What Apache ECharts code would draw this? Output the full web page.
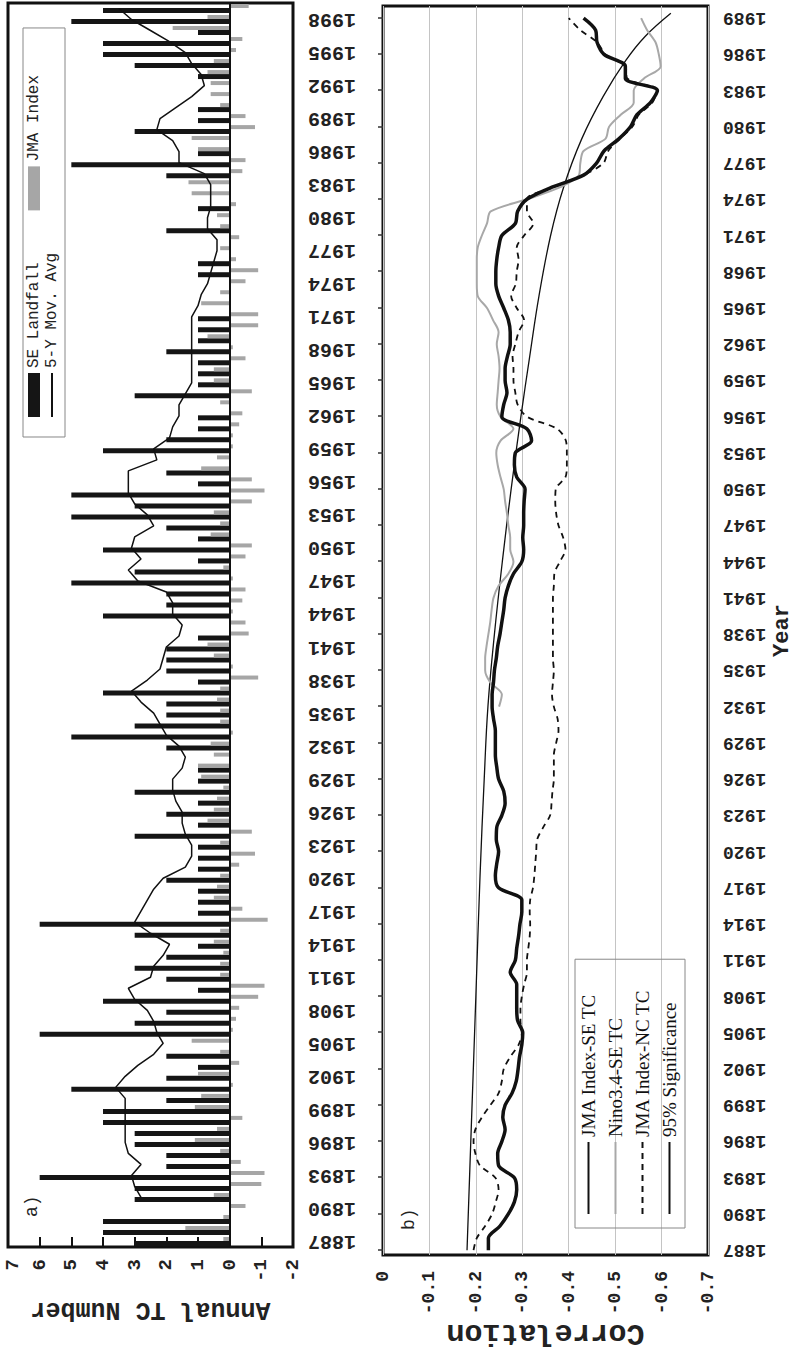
<!DOCTYPE html>
<html><head><meta charset="utf-8">
<script src="https://cdn.jsdelivr.net/npm/echarts@6/dist/echarts.min.js"></script>
<style>
html,body{margin:0;padding:0;background:#fff;overflow:hidden;width:794px;height:1351px;}
#chart{position:absolute;left:0;top:0;width:1351px;height:794px;transform-origin:0 0;transform:translate(0,1351px) rotate(-90deg);background:#fff;}
</style></head><body><div id="chart"></div>
<script>
// ---- Panel a: annual TC numbers ----
const tcYears = [
1887,1888,1889,1890,1891,1892,1893,1894,1895,1896,
1897,1898,1899,1900,1901,1902,1903,1904,1905,1906,
1907,1908,1909,1910,1911,1912,1913,1914,1915,1916,
1917,1918,1919,1920,1921,1922,1923,1924,1925,1926,
1927,1928,1929,1930,1931,1932,1933,1934,1935,1936,
1937,1938,1939,1940,1941,1942,1943,1944,1945,1946,
1947,1948,1949,1950,1951,1952,1953,1954,1955,1956,
1957,1958,1959,1960,1961,1962,1963,1964,1965,1966,
1967,1968,1969,1970,1971,1972,1973,1974,1975,1976,
1977,1978,1979,1980,1981,1982,1983,1984,1985,1986,
1987,1988,1989,1990,1991,1992,1993,1994,1995,1996,
1997,1998,1999];
const seLandfall = [
3,4,4,0,3,3,6,2,2,3,
3,4,4,2,5,2,1,2,0,6,
3,2,4,1,2,3,2,1,3,6,
1,1,1,2,1,1,1,3,1,2,
1,3,1,1,0,2,5,3,2,2,
4,1,2,2,2,1,0,4,2,2,
5,3,1,4,1,2,5,3,5,1,
2,0,4,2,1,1,0,3,1,1,
1,2,1,1,1,0,0,0,1,1,
0,0,2,0,1,0,0,2,5,1,
0,3,1,1,0,0,1,3,4,4,
1,5,4];
const jmaIndex = [
0.2,1.4,0.2,-0.5,0.5,-1.0,-1.1,-0.35,0.3,1.1,
0.4,-0.4,1.1,0.9,-0.1,1.0,-0.3,0.3,1.2,-0.1,
-0.2,-0.3,-0.9,-1.1,0.3,0.3,0.2,0.5,0.3,-1.2,
-0.4,0.5,0.4,0.3,-0.3,-0.8,0.3,-0.7,0.7,0.5,
0.4,0.2,0.9,1.0,0.5,0.6,-0.1,0.3,0.3,0.4,
0.3,-0.9,-0.1,0.5,0.7,-0.6,-0.5,-0.1,-0.4,-0.5,
-0.1,0.2,-0.5,-0.7,0.6,0.3,0.5,-0.7,-1.1,-0.7,
0.9,0.4,-0.1,-0.1,-0.3,-0.4,0.3,-0.7,0.5,0.5,
-0.5,-0.1,0.7,-0.9,-0.9,0.9,0.3,-0.5,-0.9,-0.2,
0.3,-0.3,0.3,0.4,-0.2,1.2,1.3,-0.4,-0.5,1.0,
1.2,-0.8,-0.5,0.3,0.6,0.6,0.7,0.5,-0.2,-0.4,
1.8,0.7,-0.6];
const movAvg5 = [
null,null,null,null,2.8,3.0,3.1,2.8,3.2,3.3,
3.3,3.3,3.3,3.3,3.6,3.3,2.9,2.4,2.1,2.3,
2.4,2.6,3.0,3.2,2.5,2.4,2.1,1.9,2.5,3.0,
2.8,2.6,2.4,2.1,1.4,1.2,1.2,1.4,1.5,1.5,
1.7,1.8,1.8,1.5,1.4,1.6,2.0,2.2,2.4,2.8,
3.1,2.6,2.2,2.1,2.0,1.6,1.5,1.8,1.8,2.0,
2.9,3.2,2.8,3.1,3.0,2.4,2.6,3.0,3.2,3.2,
3.2,2.3,2.4,1.9,1.8,1.6,1.6,1.4,1.2,1.2,
1.2,1.2,1.2,1.2,1.2,1.0,0.9,0.7,0.6,0.5,
0.4,0.4,0.7,0.7,0.6,0.6,0.6,0.8,1.6,1.6,
1.8,2.3,2.2,1.7,1.2,0.8,0.9,1.2,1.4,1.9,
2.5,3.1,3.5];

// ---- Panel b: running correlations ----
const corrYears = tcYears.slice(0, 103);          // 1887..1989
const jmaSE = [
-0.227,-0.227,-0.252,-0.270,-0.283,-0.288,-0.283,-0.249,-0.247,-0.256,
-0.263,-0.258,-0.263,-0.278,-0.287,-0.291,-0.294,-0.299,-0.301,-0.290,
-0.288,-0.288,-0.288,-0.274,-0.285,-0.288,-0.292,-0.295,-0.299,-0.299,
-0.249,-0.242,-0.245,-0.249,-0.244,-0.245,-0.256,-0.263,-0.260,-0.249,
-0.245,-0.242,-0.242,-0.242,-0.238,-0.235,-0.235,-0.238,-0.240,-0.244,
-0.247,-0.252,-0.256,-0.260,-0.263,-0.270,-0.281,-0.299,-0.303,-0.301,
-0.303,-0.303,-0.304,-0.306,-0.288,-0.283,-0.285,-0.320,-0.310,-0.256,
-0.260,-0.267,-0.263,-0.263,-0.268,-0.274,-0.274,-0.270,-0.260,-0.249,
-0.243,-0.243,-0.245,-0.249,-0.256,-0.285,-0.290,-0.310,-0.364,-0.432,
-0.460,-0.476,-0.508,-0.533,-0.547,-0.576,-0.591,-0.522,-0.522,-0.476,
-0.461,-0.458,-0.432];
const ninoYears = corrYears.slice(45);            // 1932..1989
const ninoSE = [
-0.250,-0.256,-0.231,-0.220,-0.220,-0.223,-0.227,-0.231,-0.234,-0.238,
-0.249,-0.270,-0.281,-0.274,-0.274,-0.270,-0.267,-0.263,-0.260,-0.253,
-0.247,-0.244,-0.253,-0.281,-0.253,-0.245,-0.247,-0.249,-0.251,-0.249,
-0.245,-0.249,-0.237,-0.224,-0.204,-0.202,-0.202,-0.202,-0.204,-0.213,
-0.224,-0.232,-0.310,-0.382,-0.422,-0.425,-0.432,-0.479,-0.487,-0.512,
-0.540,-0.540,-0.562,-0.598,-0.594,-0.587,-0.569,-0.556];
const jmaNC = [
-0.195,-0.202,-0.220,-0.235,-0.243,-0.249,-0.242,-0.209,-0.199,-0.195,
-0.199,-0.213,-0.231,-0.249,-0.256,-0.260,-0.274,-0.292,-0.299,-0.296,
-0.296,-0.299,-0.304,-0.310,-0.310,-0.313,-0.316,-0.317,-0.316,-0.317,
-0.323,-0.326,-0.328,-0.330,-0.332,-0.345,-0.360,-0.363,-0.365,-0.368,
-0.368,-0.368,-0.373,-0.378,-0.376,-0.368,-0.364,-0.366,-0.368,-0.366,
-0.366,-0.366,-0.366,-0.366,-0.366,-0.368,-0.369,-0.381,-0.393,-0.388,
-0.378,-0.373,-0.371,-0.372,-0.393,-0.396,-0.396,-0.394,-0.375,-0.310,
-0.290,-0.285,-0.281,-0.281,-0.279,-0.285,-0.292,-0.304,-0.288,-0.276,
-0.286,-0.288,-0.292,-0.288,-0.304,-0.324,-0.310,-0.310,-0.367,-0.432,
-0.475,-0.485,-0.510,-0.537,-0.551,-0.580,-0.590,-0.526,-0.522,-0.479,
-0.461,-0.425,-0.400];
const sigYears  = [1887,1897,1908,1918,1926,1932,1938,1944,1950,1956,1961,1966,1971,1975,1979,1982.5,1985.5,1987.5,1989.4];
const sigValues = [-0.181,-0.190,-0.200,-0.209,-0.218,-0.226,-0.240,-0.257,-0.276,-0.297,-0.316,-0.336,-0.361,-0.389,-0.428,-0.474,-0.523,-0.565,-0.620];
const corrTickYears = [1887,1890,1893,1896,1899,1902,1905,1908,1911,1914,1917,1920,1923,1926,1929,1932,1935,1938,1941,1944,1947,1950,1953,1956,1959,1962,1965,1968,1971,1974,1977,1980,1983,1986,1989];

const mono = '"Liberation Mono","DejaVu Sans Mono",monospace';
const serif = '"Liberation Serif","DejaVu Serif",serif';
const pair = (xs, ys) => xs.map((x, i) => [x, ys[i]]);

const chart = echarts.init(document.getElementById('chart'), null, {renderer: 'svg'});
const option = {
  animation: false,
  backgroundColor: '#fff',
  title: [
    {text: 'a)', left: 129, top: 18, textStyle: {fontFamily: mono, fontSize: 18, fontWeight: 'normal', color: '#222'}},
    {text: 'b)', left: 116, top: 395, textStyle: {fontFamily: mono, fontSize: 18, fontWeight: 'normal', color: '#222'}}
  ],
  legend: [
    {data: ['SE Landfall', 'JMA Index'], left: 914, top: 23, orient: 'horizontal',
     padding: [3, 47, 23, 20], itemGap: 52, itemWidth: 44, itemHeight: 12, icon: 'rect',
     borderColor: '#888', borderWidth: 1, selectedMode: false,
     textStyle: {fontFamily: mono, fontSize: 16, color: '#222'}},
    {data: ['5-Y Mov. Avg'], left: 934, top: 44, padding: 0, itemWidth: 44, itemHeight: 2, icon: 'rect',
     selectedMode: false, textStyle: {fontFamily: mono, fontSize: 16, color: '#222'}},
    {data: ['JMA Index-SE TC', 'Nino3.4-SE TC', 'JMA Index-NC TC', '95% Significance'],
     orient: 'vertical', left: 123, top: 575, padding: [4, 30, 6, 13], itemGap: 8,
     itemWidth: 72, itemHeight: 14, borderColor: '#888', borderWidth: 1, selectedMode: false,
     itemStyle: {opacity: 0},
     textStyle: {fontFamily: serif, fontSize: 19, color: '#111'}}
  ],
  grid: [
    {left: 104, top: 8, right: 3, bottom: 501, show: true, borderColor: '#111', borderWidth: 3, containLabel: false, outerBoundsMode: 'none'},
    {left: 96, top: 383, right: 6, bottom: 86, show: true, borderColor: '#111', borderWidth: 3, containLabel: false, outerBoundsMode: 'none'}
  ],
  xAxis: [
    {type: 'category', gridIndex: 0, data: tcYears.map(String), boundaryGap: true,
     axisLine: {show: false}, axisTick: {show: false}, splitLine: {show: false},
     axisLabel: {interval: 2, rotate: 90, margin: 15, fontFamily: mono, fontWeight: 'bold', fontSize: 20, color: '#222'}},
    {type: 'value', gridIndex: 1, min: 1886.6, max: 1990,
     axisLine: {show: false}, splitLine: {show: false},
     axisTick: {show: true, inside: true, length: 5, customValues: corrTickYears, lineStyle: {color: '#333', width: 1.5}},
     axisLabel: {customValues: corrTickYears, rotate: 90, margin: 15, formatter: v => String(Math.round(v)),
                 fontFamily: mono, fontWeight: 'bold', fontSize: 18, color: '#222'},
     name: 'Year', nameLocation: 'middle', nameGap: 63,
     nameTextStyle: {fontFamily: mono, fontWeight: 'bold', fontSize: 22, lineHeight: 22, color: '#222'}}
  ],
  yAxis: [
    {type: 'value', gridIndex: 0, min: -2, max: 7, interval: 1,
     axisLine: {show: false}, splitLine: {show: false},
     axisTick: {show: true, inside: true, length: 10, lineStyle: {color: '#111', width: 2}},
     axisLabel: {margin: 12, fontFamily: mono, fontWeight: 'bold', fontSize: 19, color: '#222',
                 formatter: v => (v === 7 ? '{s|7}' : String(v)),
                 rich: {s: {padding: [10, 0, 0, 0], fontFamily: mono, fontWeight: 'bold', fontSize: 19, color: '#222'}}},
     name: 'Annual TC Number', nameLocation: 'middle', nameGap: 50,
     nameTextStyle: {fontFamily: mono, fontWeight: 'bold', fontSize: 25, color: '#222'}},
    {type: 'value', gridIndex: 1, min: -0.7, max: 0, interval: 0.1,
     axisLine: {show: false}, axisTick: {show: false},
     splitLine: {show: true, lineStyle: {color: '#c4c4c4', width: 1}},
     axisLabel: {margin: 16, formatter: v => (Math.abs(v) < 1e-9 ? '0' : v.toFixed(1)),
                 fontFamily: mono, fontWeight: 'bold', fontSize: 18, color: '#222'},
     name: 'Correlation', nameLocation: 'middle', nameGap: 63, nameMoveOverlap: false,
     nameTextStyle: {fontFamily: mono, fontWeight: 'bold', fontSize: 30, lineHeight: 30, color: '#222'}}
  ],
  series: [
    {name: 'SE Landfall', type: 'bar', xAxisIndex: 0, yAxisIndex: 0, data: seLandfall,
     barWidth: 5, barGap: '0%', itemStyle: {color: '#151515'},
     markLine: {silent: true, symbol: 'none', label: {show: false}, animation: false,
                lineStyle: {color: '#111', width: 2, type: 'solid'}, data: [{yAxis: 0}]}},
    {name: 'JMA Index', type: 'bar', xAxisIndex: 0, yAxisIndex: 0, data: jmaIndex,
     barWidth: 4, barGap: '0%', itemStyle: {color: '#a6a6a6'}},
    {name: '5-Y Mov. Avg', type: 'line', xAxisIndex: 0, yAxisIndex: 0, data: movAvg5,
     symbol: 'none', connectNulls: false, z: 4,
     lineStyle: {color: '#111', width: 1.5}, itemStyle: {color: '#111'}},

    {name: '95% Significance', type: 'line', xAxisIndex: 1, yAxisIndex: 1, data: pair(sigYears, sigValues),
     smooth: 0.4, symbol: 'none', lineStyle: {color: '#111', width: 1.3}, itemStyle: {color: '#111'}},
    {name: 'JMA Index-NC TC', type: 'line', xAxisIndex: 1, yAxisIndex: 1, data: pair(corrYears, jmaNC),
     smooth: 0.3, symbol: 'none', lineStyle: {color: '#111', width: 1.8, type: [6, 5]}, itemStyle: {color: '#111'}},
    {name: 'Nino3.4-SE TC', type: 'line', xAxisIndex: 1, yAxisIndex: 1, data: pair(ninoYears, ninoSE),
     smooth: 0.3, symbol: 'none', lineStyle: {color: '#a8a8a8', width: 2}, itemStyle: {color: '#a8a8a8'}},
    {name: 'JMA Index-SE TC', type: 'line', xAxisIndex: 1, yAxisIndex: 1, data: pair(corrYears, jmaSE),
     smooth: 0.3, symbol: 'none', lineStyle: {color: '#111', width: 3.5}, itemStyle: {color: '#111'}}
  ]
};
chart.setOption(option);
</script></body></html>
